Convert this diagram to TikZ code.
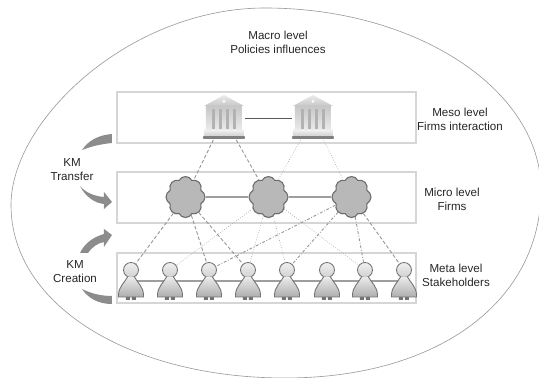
\documentclass[tikz,border=0pt]{standalone}
\usepackage{fontspec}
\setmainfont{Liberation Sans}
\usetikzlibrary{shapes.symbols,shadows}
\definecolor{boxline}{gray}{0.84}
\definecolor{bluntarrow}{gray}{0.55}
\definecolor{linkgray}{gray}{0.58}
\tikzset{
  level/.style={draw=boxline,line width=0.8pt,fill=white},
  caption/.style={align=center,font=\fontsize{6.6pt}{8pt}\selectfont,text=black!85,inner sep=0pt},
  bankspot/.style={inner sep=0pt,minimum width=0.82cm,minimum height=0.86cm},
  firm/.style={cloud,cloud puffs=8,cloud puff arc=125,aspect=1,draw=black!58,line width=0.6pt,fill=black!28,
    inner sep=0pt,minimum width=0.78cm,minimum height=0.82cm,
    drop shadow={opacity=0.2,shadow xshift=0pt,shadow yshift=-0.6pt}},
  head/.style={circle,draw=black!55,line width=0.5pt,top color=black!6,bottom color=black!18,inner sep=0pt,minimum size=0.3cm},
  solidlink/.style={line width=0.45pt,draw=black!65},
  thicklink/.style={line width=0.9pt,draw=black!38},
  dashlink/.style={line width=0.5pt,draw=linkgray,dash pattern=on 2pt off 1.2pt},
  dotlink/.style={line width=0.4pt,draw=black!32,densely dotted},
  dashdot/.style={line width=0.5pt,draw=linkgray,dash pattern=on 1.6pt off 1pt on 0.5pt off 1pt},
  bank/.pic={
    \fill [black!50,rounded corners=0.5pt] (-21,18) rectangle (21,21);
    \shade [top color=black!6,bottom color=black!18] (-20,12) rectangle (20,18);
    \shade [top color=black!22,bottom color=black!8] (-18,-12) rectangle (18,12);
    \foreach \colx in {-10.5,-3.5,3.5,10.5}
      \fill [black!30] (\colx-1.8,-9) rectangle (\colx+1.8,11);
    \shade [top color=black!8,bottom color=black!22] (-20,-12) -- (0,-23) -- (20,-12) -- cycle;
    \fill [white] (0,-16.5) circle (1.5);
  },
  body/.pic={
    \fill [black!55] (-5,15) rectangle (-1,18) (1,15) rectangle (5,18);
    \shade [top color=black!8,bottom color=black!32]
      (-3.5,-5) .. controls (-6,0) and (-12.5,5) .. (-12.5,13) -- (-12.5,15) -- (12.5,15) -- (12.5,13)
      .. controls (12.5,5) and (6,0) .. (3.5,-5) -- cycle;
    \draw [draw=black!55,line width=0.5pt]
      (-3.5,-5) .. controls (-6,0) and (-12.5,5) .. (-12.5,13) -- (-12.5,15) -- (12.5,15) -- (12.5,13)
      .. controls (12.5,5) and (6,0) .. (3.5,-5);
  }
}
\begin{document}
\begin{tikzpicture}[x=0.02cm,y=-0.02cm]
\useasboundingbox (0,0) rectangle (539,378);
\draw [draw=black!40,line width=0.35pt] (265,8) .. controls (417,8) and (541,90) .. (541,190)
  .. controls (541,300) and (440,378) .. (285,378)
  .. controls (130,378) and (11,305) .. (11,205)
  .. controls (11,120) and (130,8) .. (265,8) -- cycle;
\draw [level] (117,92) rectangle (416,143);
\draw [level] (117,172) rectangle (416,223);
\draw [level] (117,253) rectangle (416,303);
% nodes
\node (b1) at (224,118) [bankspot] {};
\node (b2) at (313,118) [bankspot] {};
\node (c1) at (185.5,197) [firm] {};
\node (c2) at (268.5,197) [firm] {};
\node (c3) at (351.5,197) [firm] {};
\coordinate (l1) at (131,281);
\coordinate (l2) at (404,281);
\draw [thicklink] (l1) -- (l2);
\pic at (224,118) {bank};
\pic at (313,118) {bank};
\node (p1) at (131,270) [head] {};
\node (p2) at (170,270) [head] {};
\node (p3) at (209,270) [head] {};
\node (p4) at (248,270) [head] {};
\node (p5) at (287,270) [head] {};
\node (p6) at (327,270) [head] {};
\node (p7) at (365,270) [head] {};
\node (p8) at (404,270) [head] {};
\pic at (131,282) {body};
\pic at (170,282) {body};
\pic at (209,282) {body};
\pic at (248,282) {body};
\pic at (287,282) {body};
\pic at (327,282) {body};
\pic at (365,282) {body};
\pic at (404,282) {body};
% links
\draw [solidlink] (b1) edge (b2);
\draw [thicklink] (c1) edge (c2);
\draw [thicklink] (c2) edge (c3);
\draw [dashlink] (b1) edge (c1);
\draw [dashlink] (b1) edge (c2);
\draw [dotlink] (b2) edge (c2);
\draw [dotlink] (b2) edge (c3);
\draw [dashlink] (c1) edge (p1);
\draw [dashlink] (c1) edge (p3);
\draw [dashlink] (c1) edge (p4);
\draw [dotlink] (c2) edge (p2);
\draw [dotlink] (c2) edge (p4);
\draw [dotlink] (c2) edge (p5);
\draw [dotlink] (c2) edge (p7);
\draw [dashdot] (c3) edge (p3);
\draw [dashdot] (c3) edge (p5);
\draw [dashdot] (c3) edge (p7);
\draw [dashlink] (c3) edge (p8);
% curved arrows
\fill [bluntarrow] (112,134) .. controls (98,135) and (88,141) .. (82,150) .. controls (92,146) and (102,144) .. (112,143) -- cycle;
\fill [bluntarrow] (80,186) .. controls (85,192) and (93,196) .. (104,197) -- (104,192) -- (112,202) -- (104,209) -- (104,204) .. controls (94,203) and (85,196) .. (80,186) -- cycle;
\fill [bluntarrow] (80,253) .. controls (84,244) and (93,237) .. (104,234) -- (104,229) -- (112,235) -- (104,247) -- (104,242) .. controls (98,243) and (92,247) .. (88,253) -- cycle;
\fill [bluntarrow] (82,289) .. controls (90,293) and (100,296) .. (112,296) -- (112,304) .. controls (98,304) and (88,298) .. (82,289) -- cycle;
% labels
\node (macro) at (278,42) [caption] {Macro level\\Policies influences};
\node (meso) at (460,119) [caption] {Meso level\\Firms interaction};
\node (micro) at (452,199) [caption] {Micro level\\Firms};
\node (meta) at (456,275.5) [caption] {Meta level\\Stakeholders};
\node (transfer) at (72,169.5) [caption] {KM\\Transfer};
\node (creation) at (75,272) [caption] {KM\\Creation};
\end{tikzpicture}
\end{document}
